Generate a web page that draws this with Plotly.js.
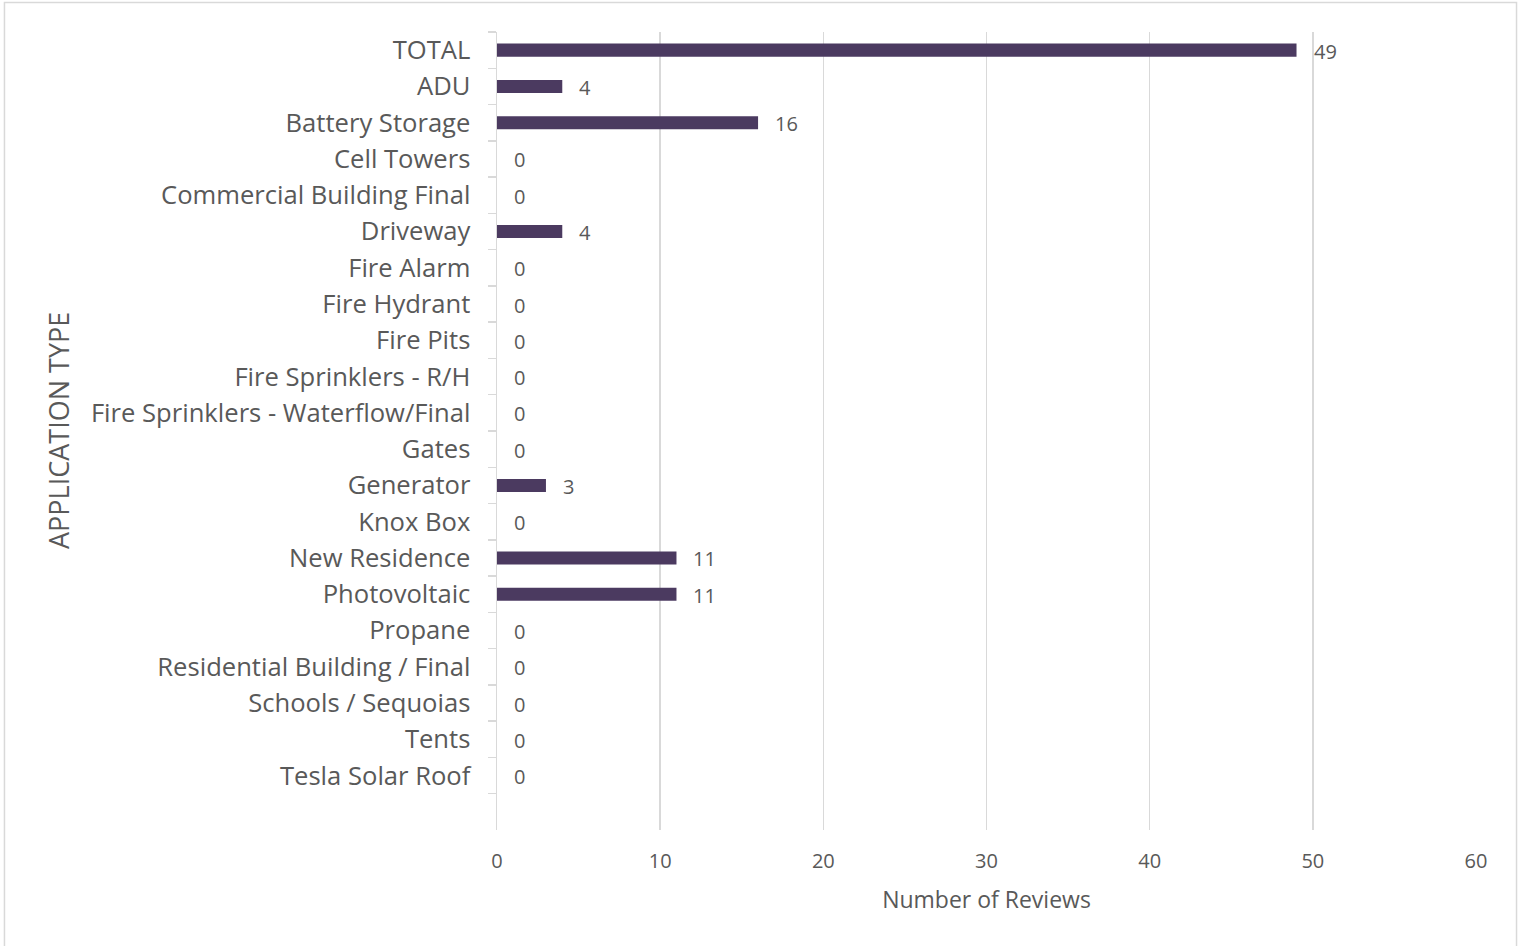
<!DOCTYPE html>
<html>
<head>
<meta charset="utf-8">
<script src="https://cdn.plot.ly/plotly-3.0.1.min.js"></script>
<style>
html,body{margin:0;padding:0;background:#fff;}
#chart{width:1525px;height:946px;}
</style>
</head>
<body>
<div id="chart"></div>
<script>
const categories = ["TOTAL","ADU","Battery Storage","Cell Towers","Commercial Building Final","Driveway","Fire Alarm","Fire Hydrant","Fire Pits","Fire Sprinklers - R/H","Fire Sprinklers - Waterflow/Final","Gates","Generator","Knox Box","New Residence","Photovoltaic","Propane","Residential Building / Final","Schools / Sequoias","Tents","Tesla Solar Roof"," "];
const reviews = [49,4,16,0,0,4,0,0,0,0,0,0,3,0,11,11,0,0,0,0,0,null];
const xTicks = [0,10,20,30,40,50,60];

const FONT = "'Open Sans', sans-serif";
const GREY = "#595959";
const LINE = "#d9d9d9";

const trace = {
  type: "bar",
  orientation: "h",
  x: reviews,
  y: categories,
  width: 0.36,
  marker: {color: "#4b3a60"},
  hoverinfo: "x+y"
};

const annotations = [];
categories.forEach((c, i) => {
  if (reviews[i] === null) return;
  annotations.push({
    x: reviews[i], y: c, xref: "x", yref: "y",
    text: String(reviews[i]), showarrow: false,
    xanchor: "left", yanchor: "middle", xshift: 15, yshift: -1,
    font: {family: FONT, size: 20, color: GREY}
  });
});
annotations.push({
  x: -0.4484, y: 0.5, xref: "paper", yref: "paper",
  text: "APPLICATION TYPE", textangle: -90, showarrow: false,
  xanchor: "center", yanchor: "middle",
  font: {family: FONT, size: 27, color: GREY}
});

const layout = {
  width: 1525, height: 946,
  margin: {l: 497, r: 49, t: 32, b: 116},
  paper_bgcolor: "#fff", plot_bgcolor: "#fff",
  showlegend: false,
  font: {family: FONT, color: GREY},
  xaxis: {
    range: [0, 60], tickvals: xTicks, ticktext: xTicks.map(String),
    showgrid: true, gridcolor: LINE, gridwidth: 1.5,
    zeroline: false, showline: false, ticks: "",
    ticklabelstandoff: 17,
    tickfont: {family: FONT, size: 20, color: GREY},
    title: {text: "Number of Reviews", standoff: 18, font: {family: FONT, size: 23, color: GREY}},
    fixedrange: true
  },
  yaxis: {
    type: "category", categoryorder: "array", categoryarray: categories,
    autorange: "reversed",
    showgrid: false, zeroline: false,
    showline: true, linecolor: LINE, linewidth: 1.5,
    ticks: "outside", tickson: "boundaries", ticklen: 8, tickcolor: LINE, tickwidth: 1.5,
    ticklabelstandoff: 20,
    tickfont: {family: FONT, size: 25.6, color: GREY},
    automargin: false,
    fixedrange: true
  },
  annotations: annotations,
  shapes: [{
    type: "rect", xref: "paper", yref: "paper",
    x0: -0.5031, x1: 1.0414, y0: -0.16, y1: 1.0370,
    line: {color: LINE, width: 1.5}, fillcolor: "rgba(0,0,0,0)", layer: "below"
  }]
};

Plotly.newPlot("chart", [trace], layout, {displayModeBar: false, staticPlot: true});
</script>
</body>
</html>
